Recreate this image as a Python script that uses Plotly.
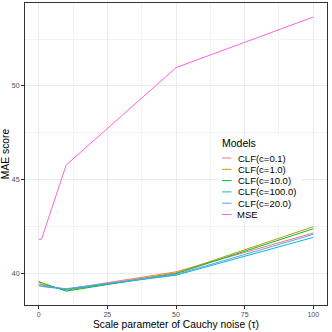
import plotly.graph_objects as go

tau = [0, 1, 10, 50, 100]
models = ["CLF(c=0.1)", "CLF(c=1.0)", "CLF(c=10.0)", "CLF(c=100.0)", "CLF(c=20.0)", "MSE"]
mae = {
    "CLF(c=0.1)":   [39.45, 39.38, 39.15, 40.08, 42.15],
    "CLF(c=1.0)":   [39.60, 39.42, 39.10, 40.02, 42.49],
    "CLF(c=10.0)":  [39.55, 39.50, 39.05, 39.98, 42.38],
    "CLF(c=100.0)": [39.35, 39.30, 39.15, 39.90, 41.92],
    "CLF(c=20.0)":  [39.38, 39.32, 39.18, 39.93, 42.08],
    "MSE":          [41.82, 41.82, 45.78, 50.98, 53.68],
}
colors = ["#F8766D", "#B79F00", "#00BA38", "#00BFC4", "#619CFF", "#F564E3"]
legend_title = "Models"

W = H = 332
ML, MR, MT, MB = 25, 5, 3, 27
PW, PH = W - ML - MR, H - MT - MB


def px(x):
    return (x - ML) / PW


def py(y):
    return (H - MB - y) / PH


fig = go.Figure()
for m, c in zip(models, colors):
    fig.add_trace(go.Scatter(x=tau, y=mae[m], mode="lines", name=m,
                             line=dict(color=c, width=1), showlegend=False))

axis_common = dict(
    showgrid=True, gridcolor="#EBEBEB", gridwidth=1,
    showline=True, linecolor="#333333", linewidth=1, mirror=True,
    ticks="outside", ticklen=3, tickcolor="#333333", tickwidth=1,
    tickfont=dict(size=7, color="#4D4D4D", family="Liberation Sans"),
    zeroline=False, automargin=False,
)
fig.update_xaxes(**axis_common, range=[-5, 105], tickvals=[0, 25, 50, 75, 100],
                 minor=dict(tickvals=[12.5, 37.5, 62.5, 87.5], showgrid=True,
                            gridcolor="#F3F3F3", gridwidth=0.5, ticks=""),
                 title=dict(text="Scale parameter of Cauchy noise (τ)",
                            font=dict(size=10.3, color="black", family="Liberation Sans"),
                            standoff=3))
fig.update_yaxes(**axis_common, range=[38.31, 54.43], tickvals=[40, 45, 50],
                 minor=dict(tickvals=[37.5, 42.5, 47.5, 52.5], showgrid=True,
                            gridcolor="#F3F3F3", gridwidth=0.5, ticks=""),
                 title=dict(text="MAE score",
                            font=dict(size=10.3, color="black", family="Liberation Sans"),
                            standoff=3))

# manual legend (ggplot style)
shapes = [dict(type="rect", xref="paper", yref="paper",
               x0=px(217), x1=px(302), y0=py(137), y1=py(222),
               fillcolor="white", line=dict(width=0), layer="above")]
annotations = [dict(text=legend_title, xref="paper", yref="paper",
                    x=px(219.5), y=py(143), xanchor="left", yanchor="middle",
                    showarrow=False, font=dict(size=10.5, color="black",
                                               family="Liberation Sans"))]
for i, (m, c) in enumerate(zip(models, colors)):
    yc = 158 + i * 11.3
    shapes.append(dict(type="line", xref="paper", yref="paper",
                       x0=px(222), x1=px(231.5), y0=py(yc), y1=py(yc),
                       line=dict(color=c, width=1), layer="above"))
    annotations.append(dict(text=m, xref="paper", yref="paper",
                            x=px(235.5), y=py(yc), xanchor="left", yanchor="middle",
                            showarrow=False, font=dict(size=9.5, color="black",
                                                       family="Liberation Sans")))

fig.update_layout(
    width=W, height=H,
    margin=dict(l=ML, r=MR, t=MT, b=MB),
    paper_bgcolor="white", plot_bgcolor="white",
    font=dict(family="Liberation Sans"),
    shapes=shapes, annotations=annotations,
    showlegend=False,
)
fig.write_html("out.html", config={"displayModeBar": False},
               post_script="document.body.style.margin='0px';document.body.style.overflow='hidden';")
